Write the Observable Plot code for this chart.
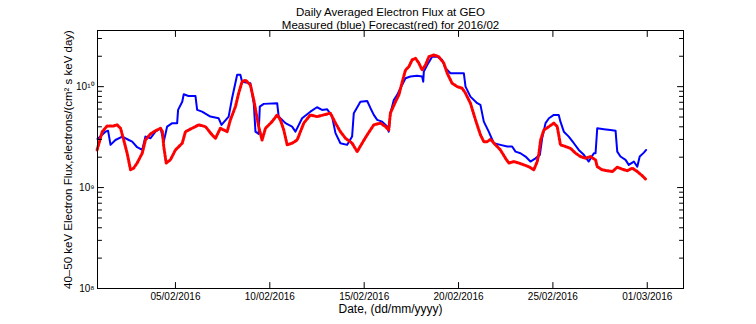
<!DOCTYPE html>
<html><head><meta charset="utf-8">
<script src="https://cdn.jsdelivr.net/npm/d3@7"></script>
<script src="https://cdn.jsdelivr.net/npm/@observablehq/plot@0.6"></script>
<style>
body{margin:0;background:#fff;}
#chart svg{font-family:"Liberation Sans",Arial,Helvetica,sans-serif;}
</style>
</head><body><div id="chart"></div>
<script>
const titleLine1 = "Daily Averaged Electron Flux at GEO";
const titleLine2 = "Measured (blue) Forecast(red) for 2016/02";
const xLabel = "Date, (dd/mm/yyyy)";
const yLabel = "40–50 keV Electron Flux,electrons/(cm² s keV day)";

// x in day-of-February 2016 (01/03 = day 30)
const xTicks = [5, 10, 15, 20, 25, 30];
const xTickLabels = ["05/02/2016", "10/02/2016", "15/02/2016", "20/02/2016", "25/02/2016", "01/03/2016"];
const yMajorTicks = [1e8, 1e9, 1e10];
const yMajorLabels = ["10⁸", "10⁹", "10¹⁰"];
const yMinorTicks = [2e8,3e8,4e8,5e8,6e8,7e8,8e8,9e8,2e9,3e9,4e9,5e9,6e9,7e9,8e9,9e9,2e10,3e10];

const FLUX_UNIT = 1e9;

const blueDay = [0.87,1.29,1.43,1.56,1.82,2.18,2.53,2.71,2.97,3.24,
3.41,3.68,3.94,4.21,4.38,4.56,4.83,5.09,5.14,5.36,
5.44,5.69,6.06,6.15,6.41,6.85,7.29,7.44,7.82,8.0,
8.27,8.44,8.53,8.97,9.15,9.24,9.41,9.47,9.68,10.39,
10.47,10.83,11.18,11.36,11.71,12.15,12.5,12.77,13.04,13.3,
13.48,13.74,14.1,14.36,14.45,14.8,15.16,15.33,15.51,15.69,
15.95,16.22,16.3,16.39,16.57,16.75,16.92,17.19,17.45,17.81,
18.07,18.13,18.16,18.34,18.6,18.87,19.13,19.31,19.57,19.93,
20.28,20.37,20.63,20.99,21.16,21.34,21.6,21.87,22.22,22.58,
22.84,23.02,23.28,23.55,23.81,24.08,24.31,24.43,24.61,24.79,
25.05,25.31,25.4,25.58,25.84,26.11,26.37,26.64,26.9,27.17,
27.26,27.35,27.7,28.05,28.32,28.41,28.58,28.85,29.02,29.29,
29.47,29.6,29.82,29.94];
const blueFlux = [3.03,3.58,3.66,2.65,2.96,3.20,2.96,2.85,2.51,2.36,
3.20,3.08,3.58,3.87,2.85,4.02,4.35,4.35,5.88,7.09,
8.41,8.09,8.09,5.88,5.65,5.05,4.86,4.18,5.05,7.68,
13.1,13.1,11.2,10.8,6.85,3.58,3.40,6.34,6.75,6.85,
5.05,4.35,4.02,3.58,4.86,5.65,6.25,5.88,5.97,5.05,
3.46,2.75,2.65,3.20,5.46,7.09,7.21,6.15,5.25,4.68,
4.50,4.02,3.58,5.46,7.38,8.28,9.64,12.1,12.6,12.8,
12.6,11.2,14.1,16.4,19.8,19.8,18.4,15.2,13.6,13.6,
13.6,10.0,7.96,6.85,6.59,4.50,3.58,2.75,2.65,2.55,
2.55,2.27,2.19,2.03,1.81,1.95,2.11,3.08,4.35,4.86,
5.25,5.25,4.50,3.58,3.20,2.75,2.36,2.11,1.81,2.19,
2.19,3.87,3.79,3.72,3.66,2.27,2.03,1.88,1.68,1.81,
1.61,2.03,2.22,2.36];

const redDay = [0.85,1.12,1.38,1.71,1.91,2.09,2.26,2.44,2.62,2.79,
2.97,3.24,3.41,3.68,3.94,4.21,4.31,4.38,4.51,4.73,
5.0,5.36,5.53,5.88,6.23,6.59,6.94,7.12,7.38,7.74,
7.91,8.18,8.35,8.53,8.71,8.97,9.15,9.41,9.59,9.77,
10.12,10.39,10.56,10.74,10.92,11.18,11.45,11.8,12.15,12.5,
12.86,13.21,13.48,13.74,14.01,14.36,14.63,14.89,15.16,15.51,
15.86,16.13,16.3,16.39,16.66,16.84,17.02,17.19,17.37,17.54,
17.72,17.9,18.07,18.25,18.43,18.69,18.95,19.22,19.4,19.66,
19.93,20.19,20.37,20.63,20.9,21.16,21.34,21.52,21.69,21.96,
22.22,22.49,22.66,22.93,23.19,23.46,23.72,23.99,24.17,24.26,
24.35,24.52,24.79,25.05,25.23,25.4,25.67,25.93,26.2,26.46,
26.73,26.99,27.26,27.35,27.61,27.88,28.15,28.41,28.68,28.94,
29.21,29.47,29.74,29.95];
const redFlux = [2.36,3.58,4.08,4.08,4.18,3.87,2.96,2.19,1.50,1.56,
1.75,2.19,2.96,3.40,3.66,3.87,3.6,2.55,1.75,1.88,
2.36,2.75,3.58,3.87,4.18,4.02,3.33,3.08,3.87,3.58,
4.68,6.34,8.6,11.2,11.6,10.4,7.38,4.02,2.96,3.87,
4.5,5.25,4.68,3.72,2.65,2.75,2.96,4.35,5.25,5.05,
5.25,5.46,4.35,3.58,3.08,2.75,2.27,2.75,3.33,4.18,
4.35,4.02,3.72,5.46,7.09,8.28,11.2,14.6,15.8,18.4,
19.1,17.1,14.6,16.4,19.8,20.6,19.8,17.1,13.6,10.8,
10.0,9.64,8.6,6.85,4.68,3.33,2.85,2.85,3.01,2.65,
2.36,1.95,1.75,1.81,1.75,1.68,1.61,1.50,1.81,2.19,
2.96,3.72,4.02,4.35,4.02,2.65,2.55,2.45,2.19,2.03,
1.95,2.03,1.88,1.61,1.50,1.47,1.44,1.59,1.52,1.47,
1.56,1.44,1.31,1.19];

const measured = blueDay.map((d, i) => ({day: d, flux: blueFlux[i] * FLUX_UNIT}));
const forecast = redDay.map((d, i) => ({day: d, flux: redFlux[i] * FLUX_UNIT}));

// straight tick segment starting at the anchor point
const tickShape = {draw(context, l) { context.moveTo(0, 0); context.lineTo(0, -l); }};
const tickOpts = {anchor: "start", shape: tickShape, stroke: "#000", strokeWidth: 1};

const chart = Plot.plot({
  width: 756,
  height: 324,
  marginTop: 30,
  marginLeft: 97,
  marginRight: 73,
  marginBottom: 36,
  style: {background: "#fff", color: "#000", fontSize: "10px", fontFamily: "'Liberation Sans', Arial, sans-serif"},
  x: {domain: [0.87, 31.92]},
  y: {type: "log", domain: [1e8, 3.6e10]},
  marks: [
    Plot.lineY(measured, {x: "day", y: "flux", stroke: "#0000ff", strokeWidth: 2}),
    Plot.line(forecast, {x: "day", y: "flux", stroke: "#ff0000", strokeWidth: 3, strokeDasharray: "2,1.6"}),
    Plot.frame({stroke: "#000", strokeWidth: 1}),
    // inward ticks: x bottom (up), x top (down)
    Plot.vector(xTicks, {x: d => d, frameAnchor: "bottom", length: 6, rotate: 0, ...tickOpts}),
    Plot.vector(xTicks, {x: d => d, frameAnchor: "top", length: 6, rotate: 180, ...tickOpts}),
    // inward ticks: y left (right), y right (left)
    Plot.vector(yMajorTicks, {y: d => d, frameAnchor: "left", length: 6, rotate: 90, ...tickOpts}),
    Plot.vector(yMinorTicks, {y: d => d, frameAnchor: "left", length: 4, rotate: 90, ...tickOpts}),
    Plot.vector(yMajorTicks, {y: d => d, frameAnchor: "right", length: 6, rotate: -90, ...tickOpts}),
    Plot.vector(yMinorTicks, {y: d => d, frameAnchor: "right", length: 4, rotate: -90, ...tickOpts}),
    // tick labels
    Plot.axisX(xTicks, {anchor: "bottom", tickSize: 0, tickPadding: 4, label: null,
      tickFormat: d => xTickLabels[xTicks.indexOf(d)], fontSize: 10}),
    Plot.axisY(yMajorTicks, {anchor: "left", tickSize: 0, tickPadding: 3, label: null,
      tickFormat: d => yMajorLabels[yMajorTicks.indexOf(d)], fontSize: 10}),
    // titles and axis labels
    Plot.text([titleLine1], {frameAnchor: "top", dy: -23, fontSize: 11.5}),
    Plot.text([titleLine2], {frameAnchor: "top", dy: -10, fontSize: 11.5}),
    Plot.text([xLabel], {frameAnchor: "bottom", dy: 24, fontSize: 12}),
    Plot.text([yLabel], {frameAnchor: "left", dx: -29, rotate: -90, textAnchor: "middle", fontSize: 11.5})
  ]
});
document.getElementById("chart").appendChild(chart);
</script>
</body></html>
